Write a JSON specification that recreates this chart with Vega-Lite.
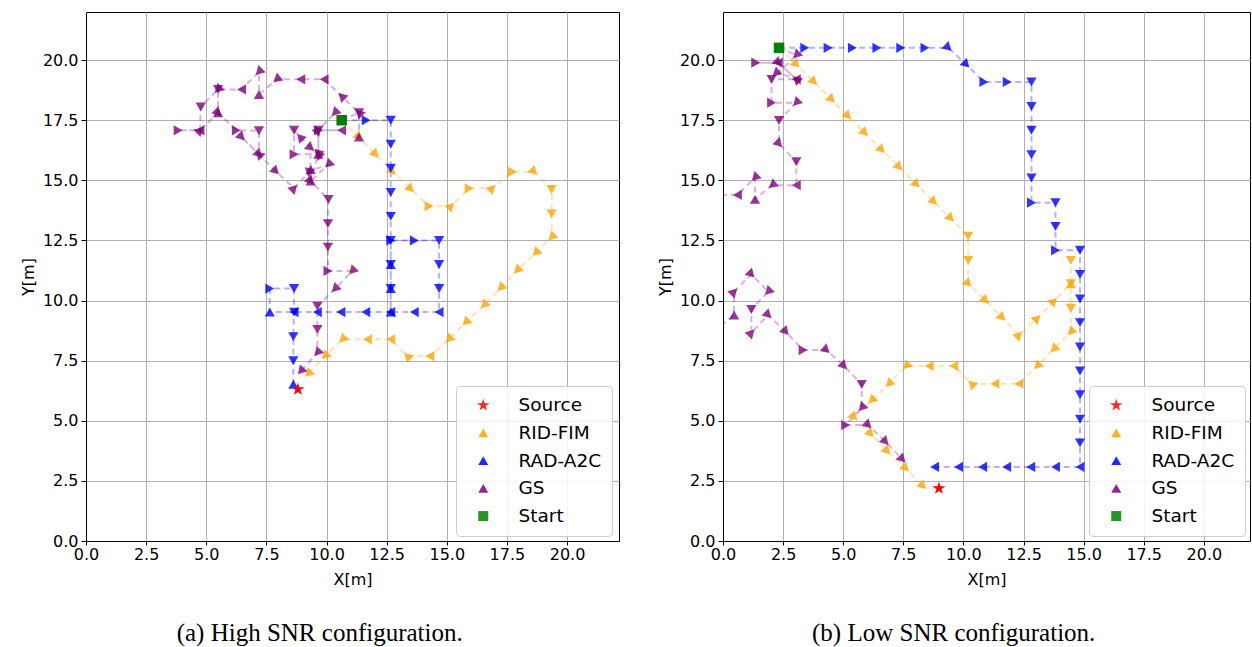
{
  "$schema": "https://vega.github.io/schema/vega-lite/v6.json",
  "padding": {"left": 19, "top": 11, "right": 0, "bottom": 0},
  "background": "white",
  "config": {
    "font": "DejaVu Sans",
    "view": {"stroke": "black", "strokeWidth": 1},
    "axis": {
      "labelFont": "DejaVu Sans", "labelFontSize": 16, "labelColor": "black", "labelFlush": false,
      "titleFont": "DejaVu Sans", "titleFontSize": 16, "titleFontWeight": "normal", "titleColor": "black",
      "tickColor": "black", "tickSize": 5, "labelPadding": 3, "titlePadding": 6,
      "gridColor": "#b0b0b0", "gridWidth": 1, "domainColor": "black"
    },
    "axisX": {"tickSize": 4, "labelPadding": 1, "titlePadding": 9},
    "legend": {
      "labelFont": "DejaVu Sans", "labelFontSize": 18.5, "labelColor": "black",
      "padding": 10, "symbolOffset": 8, "labelOffset": 26, "rowPadding": 8.7,
      "fillColor": "rgba(255,255,255,0.85)", "strokeColor": "#cccccc", "cornerRadius": 4,
      "symbolOpacity": 0.85, "symbolStrokeWidth": 0
    },
    "title": {"font": "Liberation Serif", "fontSize": 25, "fontWeight": "normal", "color": "black"}
  },
  "datasets": {
    "hi": [
      {"series": "Source", "x": 8.81, "y": 6.31, "heading": 0},
      {"series": "Start", "x": 10.63, "y": 17.5, "heading": 0},
      {"series": "RID-FIM", "step": 0, "x": 10.63, "y": 17.49, "heading": 135},
      {"series": "RID-FIM", "step": 1, "x": 11.35, "y": 16.8, "heading": 135},
      {"series": "RID-FIM", "step": 2, "x": 12.04, "y": 16.08, "heading": 135},
      {"series": "RID-FIM", "step": 3, "x": 12.74, "y": 15.36, "heading": 135},
      {"series": "RID-FIM", "step": 4, "x": 13.5, "y": 14.64, "heading": 135},
      {"series": "RID-FIM", "step": 5, "x": 14.26, "y": 13.93, "heading": 90},
      {"series": "RID-FIM", "step": 6, "x": 15.18, "y": 13.93, "heading": 45},
      {"series": "RID-FIM", "step": 7, "x": 15.93, "y": 14.67, "heading": 90},
      {"series": "RID-FIM", "step": 8, "x": 16.89, "y": 14.67, "heading": 45},
      {"series": "RID-FIM", "step": 9, "x": 17.73, "y": 15.36, "heading": 90},
      {"series": "RID-FIM", "step": 10, "x": 18.63, "y": 15.36, "heading": 135},
      {"series": "RID-FIM", "step": 11, "x": 19.36, "y": 14.62, "heading": 180},
      {"series": "RID-FIM", "step": 12, "x": 19.36, "y": 13.61, "heading": 180},
      {"series": "RID-FIM", "step": 13, "x": 19.36, "y": 12.64, "heading": 225},
      {"series": "RID-FIM", "step": 14, "x": 18.7, "y": 11.99, "heading": 225},
      {"series": "RID-FIM", "step": 15, "x": 17.93, "y": 11.26, "heading": 225},
      {"series": "RID-FIM", "step": 16, "x": 17.24, "y": 10.53, "heading": 225},
      {"series": "RID-FIM", "step": 17, "x": 16.55, "y": 9.81, "heading": 225},
      {"series": "RID-FIM", "step": 18, "x": 15.79, "y": 9.1, "heading": 225},
      {"series": "RID-FIM", "step": 19, "x": 15.09, "y": 8.39, "heading": 225},
      {"series": "RID-FIM", "step": 20, "x": 14.3, "y": 7.69, "heading": 270},
      {"series": "RID-FIM", "step": 21, "x": 13.36, "y": 7.69, "heading": 315},
      {"series": "RID-FIM", "step": 22, "x": 12.67, "y": 8.39, "heading": 270},
      {"series": "RID-FIM", "step": 23, "x": 11.7, "y": 8.39, "heading": 270},
      {"series": "RID-FIM", "step": 24, "x": 10.66, "y": 8.39, "heading": 225},
      {"series": "RID-FIM", "step": 25, "x": 9.94, "y": 7.69, "heading": 225},
      {"series": "RID-FIM", "step": 26, "x": 9.24, "y": 6.96, "heading": 225},
      {"series": "RAD-A2C", "step": 0, "x": 10.63, "y": 17.5, "heading": 90},
      {"series": "RAD-A2C", "step": 1, "x": 11.65, "y": 17.5, "heading": 90},
      {"series": "RAD-A2C", "step": 2, "x": 12.67, "y": 17.5, "heading": 180},
      {"series": "RAD-A2C", "step": 3, "x": 12.67, "y": 16.5, "heading": 180},
      {"series": "RAD-A2C", "step": 4, "x": 12.67, "y": 15.5, "heading": 180},
      {"series": "RAD-A2C", "step": 5, "x": 12.67, "y": 14.5, "heading": 180},
      {"series": "RAD-A2C", "step": 6, "x": 12.67, "y": 13.5, "heading": 180},
      {"series": "RAD-A2C", "step": 7, "x": 12.67, "y": 12.5, "heading": 90},
      {"series": "RAD-A2C", "step": 8, "x": 13.65, "y": 12.5, "heading": 90},
      {"series": "RAD-A2C", "step": 9, "x": 14.68, "y": 12.5, "heading": 180},
      {"series": "RAD-A2C", "step": 10, "x": 14.68, "y": 11.5, "heading": 180},
      {"series": "RAD-A2C", "step": 11, "x": 14.68, "y": 10.5, "heading": 180},
      {"series": "RAD-A2C", "step": 12, "x": 14.68, "y": 9.52, "heading": 270},
      {"series": "RAD-A2C", "step": 13, "x": 13.65, "y": 9.52, "heading": 270},
      {"series": "RAD-A2C", "step": 14, "x": 12.67, "y": 9.52, "heading": 0},
      {"series": "RAD-A2C", "step": 15, "x": 12.67, "y": 10.5, "heading": 0},
      {"series": "RAD-A2C", "step": 16, "x": 12.67, "y": 11.5, "heading": 0},
      {"series": "RAD-A2C", "step": 17, "x": 12.67, "y": 12.5, "heading": 180},
      {"series": "RAD-A2C", "step": 18, "x": 12.67, "y": 11.5, "heading": 180},
      {"series": "RAD-A2C", "step": 19, "x": 12.67, "y": 10.5, "heading": 180},
      {"series": "RAD-A2C", "step": 20, "x": 12.67, "y": 9.52, "heading": 270},
      {"series": "RAD-A2C", "step": 21, "x": 11.63, "y": 9.52, "heading": 270},
      {"series": "RAD-A2C", "step": 22, "x": 10.6, "y": 9.52, "heading": 270},
      {"series": "RAD-A2C", "step": 23, "x": 9.62, "y": 9.52, "heading": 270},
      {"series": "RAD-A2C", "step": 24, "x": 8.65, "y": 9.52, "heading": 270},
      {"series": "RAD-A2C", "step": 25, "x": 7.64, "y": 9.52, "heading": 0},
      {"series": "RAD-A2C", "step": 26, "x": 7.64, "y": 10.5, "heading": 90},
      {"series": "RAD-A2C", "step": 27, "x": 8.65, "y": 10.5, "heading": 180},
      {"series": "RAD-A2C", "step": 28, "x": 8.65, "y": 9.52, "heading": 180},
      {"series": "RAD-A2C", "step": 29, "x": 8.62, "y": 8.5, "heading": 180},
      {"series": "RAD-A2C", "step": 30, "x": 8.62, "y": 7.5, "heading": 180},
      {"series": "RAD-A2C", "step": 31, "x": 8.62, "y": 6.52, "heading": 0},
      {"series": "GS", "step": 0, "x": 10.63, "y": 17.49, "heading": 66},
      {"series": "GS", "step": 1, "x": 11.35, "y": 17.81, "heading": 180},
      {"series": "GS", "step": 2, "x": 11.35, "y": 16.8, "heading": 0},
      {"series": "GS", "step": 3, "x": 11.35, "y": 17.81, "heading": 314},
      {"series": "GS", "step": 4, "x": 10.63, "y": 18.5, "heading": 314},
      {"series": "GS", "step": 5, "x": 9.9, "y": 19.2, "heading": 270},
      {"series": "GS", "step": 6, "x": 8.93, "y": 19.2, "heading": 270},
      {"series": "GS", "step": 7, "x": 7.93, "y": 19.2, "heading": 230},
      {"series": "GS", "step": 8, "x": 7.19, "y": 18.57, "heading": 0},
      {"series": "GS", "step": 9, "x": 7.19, "y": 19.51, "heading": 225},
      {"series": "GS", "step": 10, "x": 6.47, "y": 18.78, "heading": 270},
      {"series": "GS", "step": 11, "x": 5.49, "y": 18.78, "heading": 225},
      {"series": "GS", "step": 12, "x": 4.77, "y": 18.05, "heading": 180},
      {"series": "GS", "step": 13, "x": 4.74, "y": 17.08, "heading": 270},
      {"series": "GS", "step": 14, "x": 3.83, "y": 17.08, "heading": 90},
      {"series": "GS", "step": 15, "x": 4.74, "y": 17.08, "heading": 45},
      {"series": "GS", "step": 16, "x": 5.49, "y": 17.81, "heading": 0},
      {"series": "GS", "step": 17, "x": 5.49, "y": 18.78, "heading": 180},
      {"series": "GS", "step": 18, "x": 5.49, "y": 17.81, "heading": 135},
      {"series": "GS", "step": 19, "x": 6.25, "y": 17.08, "heading": 90},
      {"series": "GS", "step": 20, "x": 7.19, "y": 17.06, "heading": 180},
      {"series": "GS", "step": 21, "x": 7.19, "y": 16.08, "heading": 315},
      {"series": "GS", "step": 22, "x": 6.47, "y": 16.8, "heading": 135},
      {"series": "GS", "step": 23, "x": 7.19, "y": 16.08, "heading": 135},
      {"series": "GS", "step": 24, "x": 7.89, "y": 15.38, "heading": 135},
      {"series": "GS", "step": 25, "x": 8.65, "y": 14.67, "heading": 45},
      {"series": "GS", "step": 26, "x": 9.34, "y": 15.4, "heading": 71},
      {"series": "GS", "step": 27, "x": 10.08, "y": 15.66, "heading": 225},
      {"series": "GS", "step": 28, "x": 9.34, "y": 14.97, "heading": 0},
      {"series": "GS", "step": 29, "x": 9.34, "y": 15.45, "heading": 0},
      {"series": "GS", "step": 30, "x": 9.34, "y": 16.35, "heading": 130},
      {"series": "GS", "step": 31, "x": 9.66, "y": 16.08, "heading": 315},
      {"series": "GS", "step": 32, "x": 8.9, "y": 16.8, "heading": 318},
      {"series": "GS", "step": 33, "x": 8.65, "y": 17.08, "heading": 180},
      {"series": "GS", "step": 34, "x": 8.65, "y": 16.08, "heading": 90},
      {"series": "GS", "step": 35, "x": 9.66, "y": 16.08, "heading": 0},
      {"series": "GS", "step": 36, "x": 9.66, "y": 17.08, "heading": 90},
      {"series": "GS", "step": 37, "x": 10.63, "y": 17.08, "heading": 270},
      {"series": "GS", "step": 38, "x": 9.66, "y": 17.08, "heading": 43},
      {"series": "GS", "step": 39, "x": 10.35, "y": 17.81, "heading": 223},
      {"series": "GS", "step": 40, "x": 9.66, "y": 17.08, "heading": 180},
      {"series": "GS", "step": 41, "x": 9.66, "y": 16.08, "heading": 196},
      {"series": "GS", "step": 42, "x": 9.34, "y": 14.97, "heading": 136},
      {"series": "GS", "step": 43, "x": 10.08, "y": 14.21, "heading": 180},
      {"series": "GS", "step": 44, "x": 10.06, "y": 13.2, "heading": 180},
      {"series": "GS", "step": 45, "x": 10.06, "y": 12.22, "heading": 180},
      {"series": "GS", "step": 46, "x": 10.06, "y": 11.23, "heading": 90},
      {"series": "GS", "step": 47, "x": 11.07, "y": 11.23, "heading": 224},
      {"series": "GS", "step": 48, "x": 10.35, "y": 10.49, "heading": 225},
      {"series": "GS", "step": 49, "x": 9.62, "y": 9.77, "heading": 180},
      {"series": "GS", "step": 50, "x": 9.62, "y": 8.8, "heading": 180},
      {"series": "GS", "step": 51, "x": 9.62, "y": 7.83, "heading": 222},
      {"series": "GS", "step": 52, "x": 8.93, "y": 7.07, "heading": 222}
    ],
    "lo": [
      {"series": "Source", "x": 8.98, "y": 2.19, "heading": 0},
      {"series": "Start", "x": 2.33, "y": 20.51, "heading": 0},
      {"series": "RID-FIM", "step": 0, "x": 2.33, "y": 20.51, "heading": 134},
      {"series": "RID-FIM", "step": 1, "x": 3.05, "y": 19.82, "heading": 135},
      {"series": "RID-FIM", "step": 2, "x": 3.78, "y": 19.1, "heading": 135},
      {"series": "RID-FIM", "step": 3, "x": 4.52, "y": 18.36, "heading": 135},
      {"series": "RID-FIM", "step": 4, "x": 5.2, "y": 17.67, "heading": 135},
      {"series": "RID-FIM", "step": 5, "x": 5.89, "y": 16.98, "heading": 135},
      {"series": "RID-FIM", "step": 6, "x": 6.6, "y": 16.27, "heading": 135},
      {"series": "RID-FIM", "step": 7, "x": 7.33, "y": 15.55, "heading": 135},
      {"series": "RID-FIM", "step": 8, "x": 8.05, "y": 14.83, "heading": 135},
      {"series": "RID-FIM", "step": 9, "x": 8.77, "y": 14.11, "heading": 135},
      {"series": "RID-FIM", "step": 10, "x": 9.47, "y": 13.42, "heading": 135},
      {"series": "RID-FIM", "step": 11, "x": 10.2, "y": 12.68, "heading": 180},
      {"series": "RID-FIM", "step": 12, "x": 10.2, "y": 11.67, "heading": 180},
      {"series": "RID-FIM", "step": 13, "x": 10.2, "y": 10.7, "heading": 135},
      {"series": "RID-FIM", "step": 14, "x": 10.92, "y": 10.0, "heading": 135},
      {"series": "RID-FIM", "step": 15, "x": 11.61, "y": 9.29, "heading": 135},
      {"series": "RID-FIM", "step": 16, "x": 12.31, "y": 8.57, "heading": 45},
      {"series": "RID-FIM", "step": 17, "x": 13.07, "y": 9.26, "heading": 45},
      {"series": "RID-FIM", "step": 18, "x": 13.76, "y": 9.98, "heading": 45},
      {"series": "RID-FIM", "step": 19, "x": 14.47, "y": 10.7, "heading": 0},
      {"series": "RID-FIM", "step": 20, "x": 14.47, "y": 11.67, "heading": 180},
      {"series": "RID-FIM", "step": 21, "x": 14.47, "y": 10.7, "heading": 180},
      {"series": "RID-FIM", "step": 22, "x": 14.47, "y": 9.68, "heading": 180},
      {"series": "RID-FIM", "step": 23, "x": 14.47, "y": 8.7, "heading": 225},
      {"series": "RID-FIM", "step": 24, "x": 13.76, "y": 7.98, "heading": 225},
      {"series": "RID-FIM", "step": 25, "x": 13.07, "y": 7.28, "heading": 225},
      {"series": "RID-FIM", "step": 26, "x": 12.31, "y": 6.54, "heading": 270},
      {"series": "RID-FIM", "step": 27, "x": 11.31, "y": 6.54, "heading": 270},
      {"series": "RID-FIM", "step": 28, "x": 10.34, "y": 6.54, "heading": 315},
      {"series": "RID-FIM", "step": 29, "x": 9.6, "y": 7.28, "heading": 270},
      {"series": "RID-FIM", "step": 30, "x": 8.57, "y": 7.28, "heading": 270},
      {"series": "RID-FIM", "step": 31, "x": 7.62, "y": 7.28, "heading": 225},
      {"series": "RID-FIM", "step": 32, "x": 6.9, "y": 6.54, "heading": 225},
      {"series": "RID-FIM", "step": 33, "x": 6.18, "y": 5.85, "heading": 225},
      {"series": "RID-FIM", "step": 34, "x": 5.45, "y": 5.16, "heading": 135},
      {"series": "RID-FIM", "step": 35, "x": 6.14, "y": 4.46, "heading": 135},
      {"series": "RID-FIM", "step": 36, "x": 6.83, "y": 3.74, "heading": 135},
      {"series": "RID-FIM", "step": 37, "x": 7.6, "y": 3.02, "heading": 135},
      {"series": "RID-FIM", "step": 38, "x": 8.32, "y": 2.29, "heading": 135},
      {"series": "RAD-A2C", "step": 0, "x": 2.33, "y": 20.51, "heading": 90},
      {"series": "RAD-A2C", "step": 1, "x": 3.4, "y": 20.51, "heading": 90},
      {"series": "RAD-A2C", "step": 2, "x": 4.37, "y": 20.51, "heading": 90},
      {"series": "RAD-A2C", "step": 3, "x": 5.38, "y": 20.51, "heading": 90},
      {"series": "RAD-A2C", "step": 4, "x": 6.4, "y": 20.51, "heading": 90},
      {"series": "RAD-A2C", "step": 5, "x": 7.39, "y": 20.51, "heading": 90},
      {"series": "RAD-A2C", "step": 6, "x": 8.4, "y": 20.51, "heading": 90},
      {"series": "RAD-A2C", "step": 7, "x": 9.37, "y": 20.51, "heading": 133},
      {"series": "RAD-A2C", "step": 8, "x": 10.12, "y": 19.82, "heading": 135},
      {"series": "RAD-A2C", "step": 9, "x": 10.85, "y": 19.09, "heading": 90},
      {"series": "RAD-A2C", "step": 10, "x": 11.82, "y": 19.09, "heading": 90},
      {"series": "RAD-A2C", "step": 11, "x": 12.83, "y": 19.09, "heading": 180},
      {"series": "RAD-A2C", "step": 12, "x": 12.83, "y": 18.07, "heading": 180},
      {"series": "RAD-A2C", "step": 13, "x": 12.83, "y": 17.08, "heading": 180},
      {"series": "RAD-A2C", "step": 14, "x": 12.83, "y": 16.07, "heading": 180},
      {"series": "RAD-A2C", "step": 15, "x": 12.83, "y": 15.1, "heading": 180},
      {"series": "RAD-A2C", "step": 16, "x": 12.83, "y": 14.07, "heading": 90},
      {"series": "RAD-A2C", "step": 17, "x": 13.83, "y": 14.07, "heading": 180},
      {"series": "RAD-A2C", "step": 18, "x": 13.83, "y": 13.08, "heading": 180},
      {"series": "RAD-A2C", "step": 19, "x": 13.83, "y": 12.09, "heading": 90},
      {"series": "RAD-A2C", "step": 20, "x": 14.85, "y": 12.09, "heading": 180},
      {"series": "RAD-A2C", "step": 21, "x": 14.85, "y": 11.09, "heading": 180},
      {"series": "RAD-A2C", "step": 22, "x": 14.85, "y": 10.07, "heading": 180},
      {"series": "RAD-A2C", "step": 23, "x": 14.85, "y": 9.08, "heading": 180},
      {"series": "RAD-A2C", "step": 24, "x": 14.85, "y": 8.07, "heading": 180},
      {"series": "RAD-A2C", "step": 25, "x": 14.85, "y": 7.07, "heading": 180},
      {"series": "RAD-A2C", "step": 26, "x": 14.85, "y": 6.08, "heading": 180},
      {"series": "RAD-A2C", "step": 27, "x": 14.85, "y": 5.07, "heading": 180},
      {"series": "RAD-A2C", "step": 28, "x": 14.85, "y": 4.08, "heading": 180},
      {"series": "RAD-A2C", "step": 29, "x": 14.85, "y": 3.08, "heading": 270},
      {"series": "RAD-A2C", "step": 30, "x": 13.83, "y": 3.08, "heading": 270},
      {"series": "RAD-A2C", "step": 31, "x": 12.8, "y": 3.08, "heading": 270},
      {"series": "RAD-A2C", "step": 32, "x": 11.8, "y": 3.08, "heading": 270},
      {"series": "RAD-A2C", "step": 33, "x": 10.8, "y": 3.08, "heading": 270},
      {"series": "RAD-A2C", "step": 34, "x": 9.8, "y": 3.08, "heading": 270},
      {"series": "RAD-A2C", "step": 35, "x": 8.8, "y": 3.08, "heading": 270},
      {"series": "GS", "step": 0, "x": 2.33, "y": 20.51, "heading": 113},
      {"series": "GS", "step": 1, "x": 3.05, "y": 20.21, "heading": 225},
      {"series": "GS", "step": 2, "x": 2.3, "y": 19.47, "heading": 110},
      {"series": "GS", "step": 3, "x": 3.05, "y": 19.2, "heading": 313},
      {"series": "GS", "step": 4, "x": 2.3, "y": 19.89, "heading": 270},
      {"series": "GS", "step": 5, "x": 1.36, "y": 19.89, "heading": 90},
      {"series": "GS", "step": 6, "x": 2.3, "y": 19.89, "heading": 133},
      {"series": "GS", "step": 7, "x": 3.05, "y": 19.2, "heading": 270},
      {"series": "GS", "step": 8, "x": 2.02, "y": 19.2, "heading": 180},
      {"series": "GS", "step": 9, "x": 2.02, "y": 18.23, "heading": 90},
      {"series": "GS", "step": 10, "x": 3.05, "y": 18.23, "heading": 224},
      {"series": "GS", "step": 11, "x": 2.33, "y": 17.49, "heading": 180},
      {"series": "GS", "step": 12, "x": 2.33, "y": 16.52, "heading": 136},
      {"series": "GS", "step": 13, "x": 3.05, "y": 15.77, "heading": 180},
      {"series": "GS", "step": 14, "x": 3.05, "y": 14.8, "heading": 270},
      {"series": "GS", "step": 15, "x": 2.05, "y": 14.8, "heading": 231},
      {"series": "GS", "step": 16, "x": 1.33, "y": 14.21, "heading": 0},
      {"series": "GS", "step": 17, "x": 1.33, "y": 15.11, "heading": 225},
      {"series": "GS", "step": 18, "x": 0.6, "y": 14.39, "heading": 270},
      {"series": "GS", "step": 19, "x": -0.4, "y": 14.39, "heading": 180},
      {"series": "GS", "step": 20, "x": -0.4, "y": 8.7, "heading": 51},
      {"series": "GS", "step": 21, "x": 0.46, "y": 9.4, "heading": 0},
      {"series": "GS", "step": 22, "x": 0.46, "y": 10.37, "heading": 45},
      {"series": "GS", "step": 23, "x": 1.18, "y": 11.09, "heading": 136},
      {"series": "GS", "step": 24, "x": 1.88, "y": 10.37, "heading": 224},
      {"series": "GS", "step": 25, "x": 1.18, "y": 9.63, "heading": 180},
      {"series": "GS", "step": 26, "x": 1.18, "y": 8.66, "heading": 44},
      {"series": "GS", "step": 27, "x": 1.88, "y": 9.4, "heading": 134},
      {"series": "GS", "step": 28, "x": 2.61, "y": 8.7, "heading": 137},
      {"series": "GS", "step": 29, "x": 3.33, "y": 7.94, "heading": 90},
      {"series": "GS", "step": 30, "x": 4.3, "y": 7.94, "heading": 132},
      {"series": "GS", "step": 31, "x": 5.03, "y": 7.28, "heading": 136},
      {"series": "GS", "step": 32, "x": 5.77, "y": 6.51, "heading": 180},
      {"series": "GS", "step": 33, "x": 5.77, "y": 5.54, "heading": 223},
      {"series": "GS", "step": 34, "x": 5.1, "y": 4.82, "heading": 90},
      {"series": "GS", "step": 35, "x": 6.04, "y": 4.82, "heading": 134},
      {"series": "GS", "step": 36, "x": 6.76, "y": 4.13, "heading": 136},
      {"series": "GS", "step": 37, "x": 7.46, "y": 3.4, "heading": 136}
    ]
  },
  "hconcat": [
    {
      "width": 533, "height": 529,
      "title": {"text": "(a) High SNR configuration.", "orient": "bottom", "anchor": "middle", "frame": "bounds", "offset": 34},
      "data": {"name": "hi"},
      "encoding": {
        "x": {"field": "x", "type": "quantitative", "scale": {"domain": [0, 22.16], "nice": false, "zero": false}, "axis": {"title": "X[m]", "values": [0, 2.5, 5, 7.5, 10, 12.5, 15, 17.5, 20], "format": ".1f"}},
        "y": {"field": "y", "type": "quantitative", "scale": {"domain": [0, 22.0], "nice": false, "zero": false}, "axis": {"title": "Y[m]", "values": [0, 2.5, 5, 7.5, 10, 12.5, 15, 17.5, 20], "format": ".1f"}}
      },
      "layer": [
        {
          "transform": [{"filter": "datum.series == 'RID-FIM'"}],
          "mark": {"type": "line", "color": "#ffa500", "strokeDash": [6, 4], "strokeWidth": 2, "opacity": 0.3, "clip": true},
          "encoding": {"order": {"field": "step", "type": "quantitative"}}
        },
        {
          "transform": [{"filter": "datum.series == 'RAD-A2C'"}],
          "mark": {"type": "line", "color": "#0000ff", "strokeDash": [6, 4], "strokeWidth": 2, "opacity": 0.3, "clip": true},
          "encoding": {"order": {"field": "step", "type": "quantitative"}}
        },
        {
          "transform": [{"filter": "datum.series == 'GS'"}],
          "mark": {"type": "line", "color": "#800080", "strokeDash": [6, 4], "strokeWidth": 2, "opacity": 0.3, "clip": true},
          "encoding": {"order": {"field": "step", "type": "quantitative"}}
        },
        {
          "transform": [{"filter": "datum.step > 0"}],
          "mark": {"type": "point", "filled": true, "size": 105, "opacity": 0.8, "clip": true},
          "encoding": {
            "angle": {"field": "heading", "type": "quantitative", "scale": null},
            "color": {"field": "series", "type": "nominal",
              "scale": {"domain": ["Source", "RID-FIM", "RAD-A2C", "GS", "Start"], "range": ["#ff0000", "#ffa500", "#0000ff", "#800080", "#008000"]},
              "legend": {"title": null, "orient": "none", "legendX": 370, "legendY": 374}},
            "shape": {"field": "series", "type": "nominal",
              "scale": {"domain": ["Source", "RID-FIM", "RAD-A2C", "GS", "Start"], "range": ["M0,-1.3L0.292,-0.402L1.236,-0.402L0.472,0.153L0.764,1.052L0,0.497L-0.764,1.052L-0.472,0.153L-1.236,-0.402L-0.292,-0.402Z", "triangle-up", "triangle-up", "triangle-up", "square"]},
              "legend": {"title": null, "orient": "none", "legendX": 370, "legendY": 374}}
          }
        },
        {
          "transform": [{"filter": "datum.series == 'Source' || datum.series == 'Start'"}],
          "mark": {"type": "point", "filled": true, "size": 110, "opacity": 1},
          "encoding": {
            "color": {"field": "series", "type": "nominal",
              "legend": {"title": null, "orient": "none", "legendX": 370, "legendY": 374}},
            "shape": {"field": "series", "type": "nominal",
              "legend": {"title": null, "orient": "none", "legendX": 370, "legendY": 374}}
          }
        }
      ]
    },
    {
      "width": 527, "height": 529,
      "title": {"text": "(b) Low SNR configuration.", "orient": "bottom", "anchor": "middle", "frame": "bounds", "offset": 34},
      "data": {"name": "lo"},
      "encoding": {
        "x": {"field": "x", "type": "quantitative", "scale": {"domain": [0, 21.92], "nice": false, "zero": false}, "axis": {"title": "X[m]", "values": [0, 2.5, 5, 7.5, 10, 12.5, 15, 17.5, 20], "format": ".1f"}},
        "y": {"field": "y", "type": "quantitative", "scale": {"domain": [0, 22.0], "nice": false, "zero": false}, "axis": {"title": "Y[m]", "values": [0, 2.5, 5, 7.5, 10, 12.5, 15, 17.5, 20], "format": ".1f"}}
      },
      "layer": [
        {
          "transform": [{"filter": "datum.series == 'RID-FIM'"}],
          "mark": {"type": "line", "color": "#ffa500", "strokeDash": [6, 4], "strokeWidth": 2, "opacity": 0.3, "clip": true},
          "encoding": {"order": {"field": "step", "type": "quantitative"}}
        },
        {
          "transform": [{"filter": "datum.series == 'RAD-A2C'"}],
          "mark": {"type": "line", "color": "#0000ff", "strokeDash": [6, 4], "strokeWidth": 2, "opacity": 0.3, "clip": true},
          "encoding": {"order": {"field": "step", "type": "quantitative"}}
        },
        {
          "transform": [{"filter": "datum.series == 'GS'"}],
          "mark": {"type": "line", "color": "#800080", "strokeDash": [6, 4], "strokeWidth": 2, "opacity": 0.3, "clip": true},
          "encoding": {"order": {"field": "step", "type": "quantitative"}}
        },
        {
          "transform": [{"filter": "datum.step > 0"}],
          "mark": {"type": "point", "filled": true, "size": 105, "opacity": 0.8, "clip": true},
          "encoding": {
            "angle": {"field": "heading", "type": "quantitative", "scale": null},
            "color": {"field": "series", "type": "nominal",
              "scale": {"domain": ["Source", "RID-FIM", "RAD-A2C", "GS", "Start"], "range": ["#ff0000", "#ffa500", "#0000ff", "#800080", "#008000"]},
              "legend": {"title": null, "orient": "none", "legendX": 366, "legendY": 374}},
            "shape": {"field": "series", "type": "nominal",
              "scale": {"domain": ["Source", "RID-FIM", "RAD-A2C", "GS", "Start"], "range": ["M0,-1.3L0.292,-0.402L1.236,-0.402L0.472,0.153L0.764,1.052L0,0.497L-0.764,1.052L-0.472,0.153L-1.236,-0.402L-0.292,-0.402Z", "triangle-up", "triangle-up", "triangle-up", "square"]},
              "legend": {"title": null, "orient": "none", "legendX": 366, "legendY": 374}}
          }
        },
        {
          "transform": [{"filter": "datum.series == 'Source' || datum.series == 'Start'"}],
          "mark": {"type": "point", "filled": true, "size": 110, "opacity": 1},
          "encoding": {
            "color": {"field": "series", "type": "nominal",
              "legend": {"title": null, "orient": "none", "legendX": 366, "legendY": 374}},
            "shape": {"field": "series", "type": "nominal",
              "legend": {"title": null, "orient": "none", "legendX": 366, "legendY": 374}}
          }
        }
      ]
    }
  ],
  "spacing": 36,
  "resolve": {
    "scale": {"color": "independent", "shape": "independent", "x": "independent", "y": "independent"},
    "legend": {"color": "independent", "shape": "independent"}
  }
}
